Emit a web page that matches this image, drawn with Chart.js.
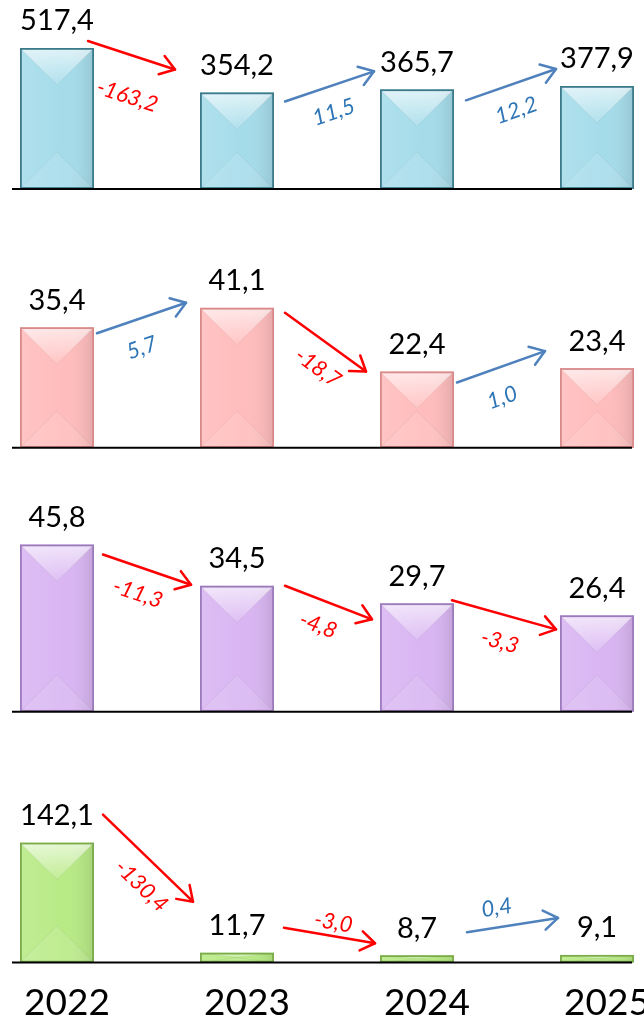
<!DOCTYPE html>
<html>
<head>
<meta charset="utf-8">
<script src="https://cdn.jsdelivr.net/npm/chart.js@4.4.1/dist/chart.umd.min.js"></script>
<style>
  html, body { margin: 0; padding: 0; background: #fff; }
  body { width: 644px; height: 1024px; overflow: hidden; position: relative; }
  #wrap { position: absolute; left: -33px; top: 0; width: 720px; height: 1043px; }
</style>
</head>
<body>
<div id="wrap"><canvas id="chart"></canvas></div>
<script>
// years on the x axis
var years = ['2022', '2023', '2024', '2025'];

// one series per panel, top to bottom
var seriesA = [517.4, 354.2, 365.7, 377.9];
var seriesB = [35.4, 41.1, 22.4, 23.4];
var seriesC = [45.8, 34.5, 29.7, 26.4];
var seriesD = [142.1, 11.7, 8.7, 9.1];

// change labels written next to the arrows
var changesA = ['-163,2', '11,5', '12,2'];
var changesB = ['5,7', '-18,7', '1,0'];
var changesC = ['-11,3', '-4,8', '-3,3'];
var changesD = ['-130,4', '-3,0', '0,4'];

var allSeries = [seriesA, seriesB, seriesC, seriesD];
var allChanges = [changesA, changesB, changesC, changesD];

// look of each panel
var looks = [
  { fill: '#a5dcea', edge: '#3c7a8a' },
  { fill: '#ffbcbc', edge: '#d98a8a' },
  { fill: '#d9b5f2', edge: '#9b7bbb' },
  { fill: '#b8ea85', edge: '#7bab4a' }
];

// panel heights and axis tops (the stacked y axes)
var panelWeights = [189, 259, 264, 251];
var panelMax = [693.6, 76.0, 72.3, 297.2];

// arrow ends: [start dx from bar right, start dy from bar top, end dx from next bar left, end dy from next bar top]
var arrowEnds = [
  [[-6, -7, -25, -23], [11, 9, -6, -18], [12, 11, -4, -17]],
  [[3, 6, -14, -5], [11, 5, -14, 0], [3, 11, -15, -17]],
  [[9, 10, -9, -1], [11, 0, -8, 16], [-2, -3, -4, 14]],
  [[9, -28, -7, -51], [10, -25, -5, -12], [13, -23, -2, -37]]
];
// change label shift from arrow middle
var noteShift = [
  [[-4, 40], [4, 25], [5, 25]],
  [[0, 29], [-7, 25], [1, 30]],
  [[-9, 23], [-10, 22], [-4, 26]],
  [[-6, 27], [4, -14], [-16, -18]]
];

var RED = '#ff0000';
var BLUE_LINE = '#4f81bd';
var BLUE_TEXT = '#2e75b6';

function fmt(v) {
  return v.toFixed(1).replace('.', ',');
}

function drawBarLook(ctx, bar, look) {
  var p = bar.getProps(['x', 'y', 'base', 'width'], true);
  var l = p.x - p.width / 2, r = p.x + p.width / 2;
  var t = Math.min(p.y, p.base), b = Math.max(p.y, p.base);
  var h = b - t, w = p.width;
  var d = Math.min(w / 2, h / 2);
  ctx.save();
  ctx.beginPath();
  ctx.rect(l, t, w, h);
  ctx.clip();
  var g = ctx.createLinearGradient(l, 0, r, 0);
  g.addColorStop(0, 'rgba(255,255,255,0.12)');
  g.addColorStop(0.6, 'rgba(255,255,255,0)');
  g.addColorStop(1, 'rgba(0,0,0,0.10)');
  ctx.fillStyle = g;
  ctx.fillRect(l, t, w, h);
  // top facet
  g = ctx.createLinearGradient(0, t, 0, t + d);
  g.addColorStop(0, 'rgba(255,255,255,0.65)');
  g.addColorStop(1, 'rgba(255,255,255,0.12)');
  ctx.fillStyle = g;
  ctx.beginPath();
  ctx.moveTo(l, t); ctx.lineTo(r, t); ctx.lineTo(p.x, t + d); ctx.closePath();
  ctx.fill();
  // bottom facet
  ctx.fillStyle = 'rgba(255,255,255,0.10)';
  ctx.beginPath();
  ctx.moveTo(l, b); ctx.lineTo(r, b); ctx.lineTo(p.x, b - d); ctx.closePath();
  ctx.fill();
  // faint diagonal ridges
  ctx.strokeStyle = 'rgba(0,0,0,0.05)';
  ctx.lineWidth = 1;
  ctx.beginPath();
  ctx.moveTo(l, t); ctx.lineTo(p.x, t + d); ctx.lineTo(r, t);
  ctx.moveTo(l, b); ctx.lineTo(p.x, b - d); ctx.lineTo(r, b);
  ctx.stroke();
  ctx.restore();
  ctx.save();
  ctx.strokeStyle = look.edge;
  ctx.lineWidth = 1.8;
  ctx.strokeRect(l + 0.9, t + 0.9, w - 1.8, Math.max(h - 1.8, 0.5));
  ctx.restore();
}

function drawArrow(ctx, x1, y1, x2, y2, color) {
  ctx.save();
  ctx.strokeStyle = color;
  ctx.lineWidth = 2.5;
  ctx.lineCap = 'round';
  ctx.lineJoin = 'round';
  ctx.beginPath();
  ctx.moveTo(x1, y1);
  ctx.lineTo(x2, y2);
  ctx.stroke();
  var a = Math.atan2(y2 - y1, x2 - x1), len = 17, spread = 0.6;
  ctx.beginPath();
  ctx.moveTo(x2 - len * Math.cos(a - spread), y2 - len * Math.sin(a - spread));
  ctx.lineTo(x2, y2);
  ctx.lineTo(x2 - len * Math.cos(a + spread), y2 - len * Math.sin(a + spread));
  ctx.stroke();
  ctx.restore();
}

var panelPlugin = {
  id: 'panelPlugin',
  afterDatasetsDraw: function(chart) {
    var ctx = chart.ctx;
    var xs = chart.scales.x;
    chart.data.datasets.forEach(function(ds, pi) {
      var meta = chart.getDatasetMeta(pi);
      var bars = meta.data;
      bars.forEach(function(bar) { drawBarLook(ctx, bar, looks[pi]); });

      // baseline
      var ys = chart.scales['y' + (pi + 1)];
      var y0 = ys.getPixelForValue(0);
      ctx.save();
      ctx.strokeStyle = '#000';
      ctx.lineWidth = 2;
      ctx.beginPath();
      ctx.moveTo(xs.getPixelForValue(0) - 45, y0);
      ctx.lineTo(xs.getPixelForValue(years.length - 1) + 35, y0);
      ctx.stroke();
      ctx.restore();

      // value labels
      ctx.save();
      ctx.fillStyle = '#000';
      ctx.font = '29px Lato';
      ctx.textAlign = 'center';
      ctx.textBaseline = 'alphabetic';
      bars.forEach(function(bar, i) {
        ctx.fillText(fmt(ds.data[i]), bar.x, bar.y - 28 + 10.5);
      });
      ctx.restore();

      // arrows and change labels
      allChanges[pi].forEach(function(txt, i) {
        var b1 = bars[i], b2 = bars[i + 1];
        var e = arrowEnds[pi][i];
        var x1 = b1.x + b1.width / 2 + e[0], y1 = b1.y + e[1];
        var x2 = b2.x - b2.width / 2 + e[2], y2 = b2.y + e[3];
        var down = txt.charAt(0) === '-';
        drawArrow(ctx, x1, y1, x2, y2, down ? RED : BLUE_LINE);
        var s = noteShift[pi][i];
        var mx = (x1 + x2) / 2 + s[0], my = (y1 + y2) / 2 + s[1];
        ctx.save();
        ctx.translate(mx, my);
        ctx.rotate(Math.atan2(y2 - y1, x2 - x1));
        ctx.fillStyle = down ? RED : BLUE_TEXT;
        ctx.font = 'italic 22px Lato';
        ctx.textAlign = 'center';
        ctx.textBaseline = 'alphabetic';
        ctx.fillText(txt, 0, 8);
        ctx.restore();
      });
    });
  }
};

function build() {
  var datasets = allSeries.map(function(values, i) {
    return {
      label: 'panel ' + (i + 1),
      data: values,
      yAxisID: 'y' + (i + 1),
      backgroundColor: looks[i].fill,
      borderWidth: 0,
      grouped: false,
      categoryPercentage: 1,
      barPercentage: 0.411
    };
  });

  var scales = {
    x: {
      type: 'category',
      offset: true,
      grid: { display: false, drawTicks: false },
      border: { display: false },
      ticks: {
        color: '#000',
        font: { family: 'Lato', size: 37, lineHeight: 1.2 },
        padding: 18,
        labelOffset: 10,
        maxRotation: 0,
        autoSkip: false
      }
    }
  };
  panelWeights.forEach(function(wt, i) {
    scales['y' + (i + 1)] = {
      type: 'linear',
      position: 'right',
      stack: 'panels',
      stackWeight: wt,
      min: 0,
      max: panelMax[i],
      display: false
    };
  });

  new Chart(document.getElementById('chart'), {
    type: 'bar',
    data: { labels: years, datasets: datasets },
    options: {
      responsive: true,
      maintainAspectRatio: false,
      animation: false,
      layout: { padding: 0 },
      scales: scales,
      plugins: {
        legend: { display: false },
        tooltip: { enabled: false }
      }
    },
    plugins: [panelPlugin]
  });
}

Promise.all([
  document.fonts.load('37px Lato'),
  document.fonts.load('29px Lato'),
  document.fonts.load('italic 22px Lato')
]).then(build, build);
</script>
</body>
</html>
